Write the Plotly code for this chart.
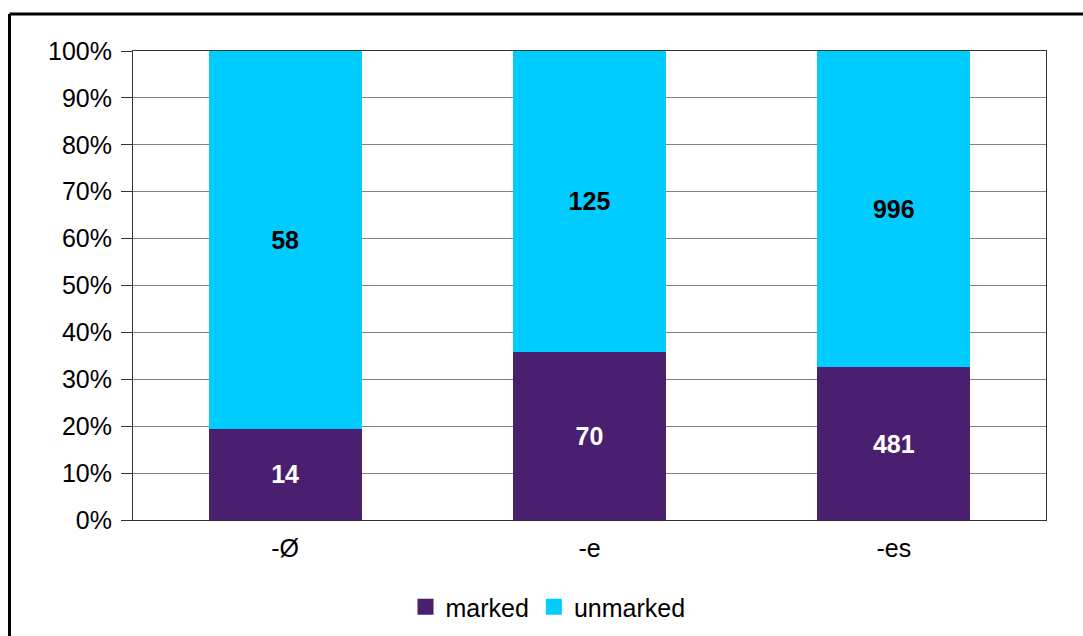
import plotly.graph_objects as go

categories = ["-Ø", "-e", "-es"]
marked = [14, 70, 481]
unmarked = [58, 125, 996]
series_names = ["marked", "unmarked"]
colors = ["#4B1F6F", "#00CCFF"]
label_colors = ["white", "black"]

W, H = 1083, 636
L, R, T, B = 133, 37, 51, 116
pw, ph = W - L - R, H - T - B

FONT = "Liberation Sans, Arial, sans-serif"
FS = 25

fig = go.Figure()
for name, vals, col, lc in zip(series_names, [marked, unmarked], colors, label_colors):
    fig.add_trace(go.Bar(
        x=categories, y=vals, name=name, marker=dict(color=col, line=dict(width=0)),
        text=[str(v) for v in vals], textposition="inside", insidetextanchor="middle",
        textangle=0, constraintext="none",
        textfont=dict(family=FONT, size=FS, color=lc, weight="bold"),
        showlegend=False, hoverinfo="skip",
    ))
    # legend entry drawn as a square marker
    fig.add_trace(go.Scatter(
        x=[None], y=[None], mode="markers", name=name,
        marker=dict(symbol="square", size=16, color=col),
        showlegend=True, hoverinfo="skip",
    ))

def px_x(px):
    return (px - L) / pw

def px_y(py):
    return (H - B - py) / ph

# outer chart frame (left and top edges visible)
fig.add_shape(type="line", xref="paper", yref="paper",
              x0=px_x(9.5), x1=px_x(W + 5), y0=px_y(14), y1=px_y(14),
              line=dict(color="black", width=3))
fig.add_shape(type="line", xref="paper", yref="paper",
              x0=px_x(9.5), x1=px_x(9.5), y0=px_y(14), y1=px_y(H + 5),
              line=dict(color="black", width=3))

fig.update_layout(
    width=W, height=H,
    margin=dict(l=L, r=R, t=T, b=B),
    paper_bgcolor="white", plot_bgcolor="white",
    barmode="stack", barnorm="percent", bargap=0.497,
    font=dict(family=FONT, size=FS, color="black"),
    legend=dict(orientation="h", xref="container", yref="container",
                x=548 / W, xanchor="center",
                y=1 - 607 / H, yanchor="middle", traceorder="normal",
                font=dict(family=FONT, size=FS, color="black"),
                itemclick=False, itemdoubleclick=False, tracegroupgap=0),
    xaxis=dict(showgrid=False, showline=True, linecolor="#333333", linewidth=1,
               mirror=True, ticks="", tickfont=dict(family=FONT, size=FS),
               ticklabelstandoff=6, fixedrange=True),
    yaxis=dict(range=[0, 100], dtick=10, ticksuffix="%",
               showgrid=True, gridcolor="#808080", gridwidth=1,
               showline=True, linecolor="#333333", linewidth=1, mirror=True,
               ticks="outside", ticklen=11, tickcolor="#333333",
               tickfont=dict(family=FONT, size=FS), zeroline=False,
               ticklabelstandoff=4, fixedrange=True),
)

fig.write_html("out.html")
